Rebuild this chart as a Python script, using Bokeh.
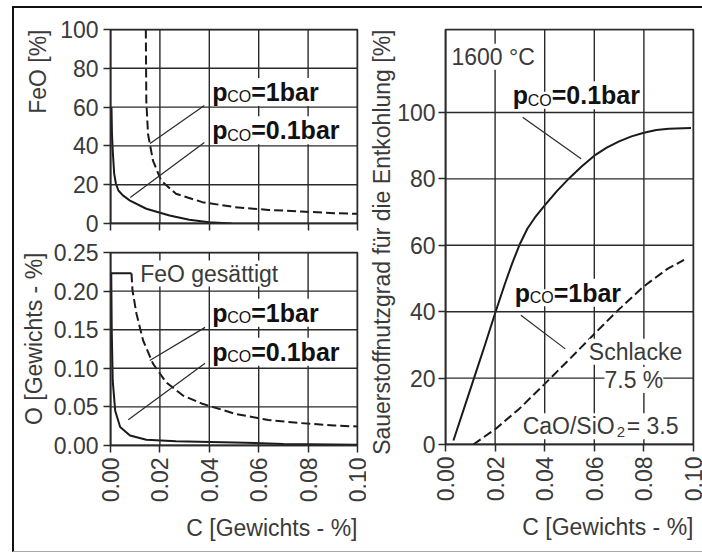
import math
from bokeh.plotting import figure
from bokeh.models import Title, Label, FixedTicker, Range1d, Span
from bokeh.layouts import row, column
from bokeh.embed import file_html
from bokeh.resources import INLINE

FONT = "Liberation Sans"
TXT = "#3a3a3a"
GRID = "#2a2a2a"
CURVE = "#1a1a1a"
FS = "23px"
DY = 7  # screen-pixel lift applied to all annotation texts

# ---------------- data ----------------
x_ticks = [0.0, 0.02, 0.04, 0.06, 0.08, 0.10]
x_labels = ["0.00", "0.02", "0.04", "0.06", "0.08", "0.10"]
feo_ticks = [0, 20, 40, 60, 80, 100]
feo_labels = ["0", "20", "40", "60", "80", "100"]
o_ticks = [0.0, 0.05, 0.10, 0.15, 0.20, 0.25]
o_labels = ["0.00", "0.05", "0.10", "0.15", "0.20", "0.25"]
eta_ticks = [0, 20, 40, 60, 80, 100]
eta_labels = ["0", "20", "40", "60", "80", "100"]

# FeO vs C
feo_c_01 = [0.0004, 0.0006, 0.0009, 0.0015, 0.0022, 0.0032, 0.005, 0.0079, 0.0145, 0.0239, 0.0319, 0.0399, 0.049]
feo_v_01 = [60.0, 46.0, 37.6, 25.6, 20.5, 17.0, 14.5, 11.8, 7.6, 4.1, 1.9, 0.7, 0.0]
feo_c_1 = [0.0143, 0.0145, 0.0152, 0.0172, 0.0205, 0.0265, 0.0372, 0.0505, 0.0639, 0.0772, 0.0905, 0.1]
feo_v_1 = [100.0, 63.0, 46.0, 32.4, 22.1, 15.3, 11.0, 8.4, 7.0, 6.2, 5.3, 5.0]

# O vs C
o_c_01 = [0.0003, 0.0005, 0.0009, 0.0019, 0.0039, 0.0079, 0.0145, 0.0265, 0.05, 0.07, 0.1]
o_v_01 = [0.223, 0.149, 0.084, 0.045, 0.024, 0.013, 0.0074, 0.0055, 0.004, 0.002, 0.001]
o_c_1 = [0.0085, 0.0089, 0.0105, 0.0132, 0.0172, 0.0225, 0.0292, 0.0372, 0.0505, 0.0639, 0.0772, 0.0905, 0.1]
o_v_1 = [0.223, 0.201, 0.171, 0.136, 0.106, 0.082, 0.065, 0.054, 0.041, 0.033, 0.029, 0.026, 0.0246]
sat_c = [0.0, 0.0085]
sat_v = [0.223, 0.223]

# Sauerstoffnutzgrad vs C
eta_c_01 = [0.0032, 0.0112, 0.016, 0.0202, 0.024, 0.027, 0.030, 0.033, 0.036, 0.040, 0.045, 0.050,
            0.055, 0.060, 0.065, 0.070, 0.075, 0.080, 0.085, 0.090, 0.099]
eta_v_01 = [1.2, 19.3, 30.2, 40.0, 48.5, 54.8, 60.4, 65.0, 68.3, 72.0, 76.4, 80.3,
            83.8, 87.0, 89.4, 91.3, 92.8, 93.9, 94.7, 95.1, 95.3]
eta_c_1 = [0.0112, 0.0202, 0.0298, 0.0394, 0.0496, 0.0596, 0.0695, 0.0799, 0.0895, 0.0962]
eta_v_1 = [0.0, 4.7, 10.8, 17.8, 25.4, 33.0, 40.4, 47.6, 52.9, 55.6]

# leader lines (annotation pointers)
tl_lead = [([0.016, 0.038], [41.2, 60.8]), ([0.008, 0.038], [13.4, 41.7])]
bl_lead = [([0.0159, 0.0383], [0.110, 0.153]), ([0.0072, 0.0383], [0.0333, 0.1066])]
r_lead = [([0.0311, 0.0547], [98.6, 86.1]), ([0.0304, 0.0483], [38.9, 28.8])]


def style(p, xt, xl, yt, yl, show_x, ylab_standoff=5):
    for ax in (p.xaxis, p.yaxis):
        ax.axis_line_color = GRID
        ax.axis_line_width = 1.5
        ax.major_tick_line_color = GRID
        ax.major_tick_line_width = 1.5
        ax.major_tick_in = 0
        ax.major_tick_out = 7
        ax.minor_tick_line_color = None
        ax.major_label_text_font = FONT
        ax.major_label_text_font_size = FS
        ax.major_label_text_color = TXT
        ax.major_label_standoff = 5
    p.yaxis.major_label_standoff = ylab_standoff
    p.xaxis.ticker = FixedTicker(ticks=xt)
    p.yaxis.ticker = FixedTicker(ticks=yt)
    p.xaxis.major_label_overrides = {t: s for t, s in zip(xt, xl)}
    p.yaxis.major_label_overrides = {t: s for t, s in zip(yt, yl)}
    if show_x:
        p.xaxis.major_label_orientation = math.pi / 2
    else:
        p.xaxis.major_label_text_font_size = "0px"
        p.xaxis.major_label_text_color = None
    p.grid.grid_line_color = None
    # grid drawn as spans at the tick positions, plus the frame edges
    for t in xt + [p.x_range.start, p.x_range.end]:
        p.add_layout(Span(location=t, dimension="height", line_color=GRID, line_width=1.4))
    for t in yt + [p.y_range.start, p.y_range.end]:
        p.add_layout(Span(location=t, dimension="width", line_color=GRID, line_width=1.4))
    p.outline_line_color = GRID
    p.outline_line_width = 1.5
    p.background_fill_color = "white"
    p.border_fill_color = "white"


def ytitle(p, text, standoff):
    p.add_layout(Title(text=text, align="right", text_font=FONT, text_font_size=FS,
                       text_font_style="normal", text_color=TXT, standoff=standoff), "left")


def xtitle(p, text):
    p.add_layout(Title(text=text, align="right", text_font=FONT, text_font_size=FS,
                       text_font_style="normal", text_color=TXT, standoff=14), "below")


def plain(p, x, y, text, bg=True):
    p.add_layout(Label(x=x, y=y, y_offset=DY, text=text, text_font=FONT, text_font_size=FS,
                       text_color=TXT, text_baseline="alphabetic", text_align="left",
                       background_fill_color="white" if bg else None))


def pco(p, x, y, tail):
    p.add_layout(Label(x=x, y=y, y_offset=DY, text="p", text_font=FONT, text_font_size="25px",
                       text_font_style="bold", text_color="#111", text_baseline="alphabetic",
                       background_fill_color="white"))
    p.add_layout(Label(x=x, y=y, x_offset=15, y_offset=DY - 5, text="CO", text_font=FONT,
                       text_font_size="16px", text_color="#111", text_baseline="alphabetic",
                       background_fill_color="white"))
    p.add_layout(Label(x=x, y=y, x_offset=39, y_offset=DY, text=tail, text_font=FONT,
                       text_font_size="25px", text_font_style="bold", text_color="#111",
                       text_baseline="alphabetic", background_fill_color="white"))


def leaders(p, lst):
    for xs, ys in lst:
        p.line(xs, ys, line_color=GRID, line_width=1.2)


# ---------------- top-left: FeO ----------------
p1 = figure(width=352, height=230, x_range=Range1d(0, 0.1), y_range=Range1d(0, 100),
            output_backend="svg", toolbar_location=None,
            min_border_left=93, min_border_right=9, min_border_top=21, min_border_bottom=15)
style(p1, x_ticks, x_labels, feo_ticks, feo_labels, False)
ytitle(p1, "FeO [%]", 13)
p1.line(feo_c_01, feo_v_01, line_color=CURVE, line_width=2)
p1.line(feo_c_1, feo_v_1, line_color=CURVE, line_width=2, line_dash="9 4")
leaders(p1, tl_lead)
pco(p1, 0.0412, 64.2, "=1bar")
pco(p1, 0.0412, 44.4, "=0.1bar")

# ---------------- bottom-left: O ----------------
p2 = figure(width=352, height=313, x_range=Range1d(0, 0.1), y_range=Range1d(0, 0.25),
            output_backend="svg", toolbar_location=None,
            min_border_left=93, min_border_right=9, min_border_top=14, min_border_bottom=106)
style(p2, x_ticks, x_labels, o_ticks, o_labels, True)
ytitle(p2, "O [Gewichts - %]", 8)
xtitle(p2, "C [Gewichts - %]")
p2.line(sat_c, sat_v, line_color=CURVE, line_width=2)
p2.line(o_c_01, o_v_01, line_color=CURVE, line_width=2)
p2.line(o_c_1, o_v_1, line_color=CURVE, line_width=2, line_dash="9 4")
leaders(p2, bl_lead)
plain(p2, 0.012, 0.2137, "FeO gesättigt")
pco(p2, 0.0412, 0.1628, "=1bar")
pco(p2, 0.0412, 0.1123, "=0.1bar")

# ---------------- right: Sauerstoffnutzgrad ----------------
p3 = figure(width=336, height=543, x_range=Range1d(0, 0.1), y_range=Range1d(0, 125),
            output_backend="svg", toolbar_location=None,
            min_border_left=76, min_border_right=9, min_border_top=21, min_border_bottom=107)
style(p3, x_ticks, x_labels, eta_ticks, eta_labels, True, ylab_standoff=3)
ytitle(p3, "Sauerstoffnutzgrad für die Entkohlung [%]", 0)
xtitle(p3, "C [Gewichts - %]")
p3.line(eta_c_01, eta_v_01, line_color=CURVE, line_width=2)
p3.line(eta_c_1, eta_v_1, line_color=CURVE, line_width=2, line_dash="9 4")
leaders(p3, r_lead)
plain(p3, 0.0024, 114.7, "1600 °C")
pco(p3, 0.0271, 103.1, "=0.1bar")
pco(p3, 0.0279, 43.6, "=1bar")
plain(p3, 0.0578, 25.8, "Schlacke")
plain(p3, 0.0641, 17.3, "7.5 %")
plain(p3, 0.0311, 3.4, "CaO/SiO")
p3.add_layout(Label(x=0.0311, y=3.4, x_offset=94, y_offset=DY - 6, text="2", text_font=FONT,
                    text_font_size="15px", text_color=TXT, text_baseline="alphabetic"))
p3.add_layout(Label(x=0.0311, y=3.4, x_offset=104, y_offset=DY, text="= 3.5", text_font=FONT,
                    text_font_size=FS, text_color=TXT, text_baseline="alphabetic",
                    background_fill_color="white"))

layout = row(column(p1, p2), p3, margin=(6, 0, 0, 12),
             styles={"border-left": "2px solid #111", "border-top": "2px solid #111",
                     "border-bottom": "1px solid #aaa"})

open("out.html", "w").write(file_html(layout, INLINE))
